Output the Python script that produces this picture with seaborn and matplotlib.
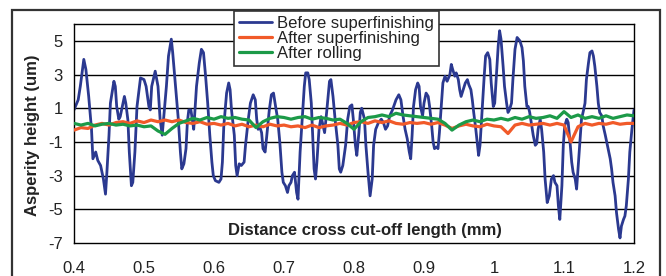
import matplotlib
matplotlib.use('Agg')
import matplotlib.pyplot as plt
import seaborn as sns
from matplotlib.patches import Rectangle

# ---------------- data ----------------
x_blue = [
    0.400, 0.406, 0.409, 0.414, 0.417, 0.421, 0.425, 0.427, 0.431, 0.434,
    0.438, 0.442, 0.445, 0.447, 0.450, 0.452, 0.457, 0.459, 0.461, 0.464,
    0.466, 0.469, 0.472, 0.474, 0.477, 0.479, 0.482, 0.484, 0.487, 0.490,
    0.495, 0.500, 0.503, 0.507, 0.509, 0.511, 0.516, 0.520, 0.523, 0.526,
    0.528, 0.532, 0.535, 0.539, 0.541, 0.545, 0.549, 0.552, 0.554, 0.557,
    0.560, 0.562, 0.564, 0.567, 0.571, 0.572, 0.575, 0.579, 0.582, 0.585,
    0.588, 0.591, 0.594, 0.597, 0.599, 0.602, 0.607, 0.610, 0.612, 0.614,
    0.618, 0.621, 0.623, 0.625, 0.629, 0.631, 0.633, 0.636, 0.639, 0.643,
    0.645, 0.649, 0.652, 0.656, 0.659, 0.661, 0.663, 0.665, 0.668, 0.670,
    0.673, 0.675, 0.679, 0.682, 0.685, 0.688, 0.691, 0.694, 0.697, 0.699,
    0.702, 0.705, 0.707, 0.710, 0.712, 0.715, 0.718, 0.720, 0.723, 0.726,
    0.729, 0.731, 0.734, 0.736, 0.739, 0.741, 0.743, 0.745, 0.747, 0.750,
    0.753, 0.758, 0.761, 0.765, 0.767, 0.770, 0.773, 0.777, 0.779, 0.781,
    0.784, 0.788, 0.791, 0.794, 0.797, 0.799, 0.802, 0.804, 0.807, 0.809,
    0.811, 0.815, 0.817, 0.820, 0.823, 0.826, 0.828, 0.831, 0.835, 0.839,
    0.842, 0.845, 0.848, 0.851, 0.855, 0.860, 0.864, 0.867, 0.870, 0.873,
    0.876, 0.879, 0.881, 0.883, 0.885, 0.888, 0.891, 0.893, 0.895, 0.898,
    0.900, 0.903, 0.906, 0.908, 0.911, 0.913, 0.915, 0.918, 0.920, 0.922,
    0.925, 0.927, 0.930, 0.933, 0.937, 0.939, 0.941, 0.944, 0.946, 0.949,
    0.951, 0.953, 0.956, 0.959, 0.962, 0.964, 0.967, 0.969, 0.971, 0.974,
    0.976, 0.978, 0.980, 0.983, 0.986, 0.988, 0.991, 0.994, 0.996, 0.999,
    1.001, 1.003, 1.006, 1.008, 1.010, 1.013, 1.015, 1.018, 1.020, 1.022,
    1.025, 1.027, 1.030, 1.033, 1.037, 1.040, 1.042, 1.044, 1.047, 1.049,
    1.051, 1.054, 1.056, 1.059, 1.061, 1.063, 1.066, 1.068, 1.071, 1.073,
    1.076, 1.079, 1.082, 1.085, 1.087, 1.090, 1.092, 1.094, 1.097, 1.099,
    1.101, 1.104, 1.106, 1.109, 1.111, 1.113, 1.116, 1.118, 1.120, 1.123,
    1.125, 1.128, 1.130, 1.132, 1.135, 1.137, 1.140, 1.142, 1.144, 1.147,
    1.149, 1.151, 1.154, 1.156, 1.159, 1.162, 1.166, 1.168, 1.170, 1.173,
    1.175, 1.178, 1.180, 1.182, 1.185, 1.187, 1.189, 1.192, 1.194, 1.197,
    1.199, 1.200,
]
y_blue = [
    0.9, 1.5, 2.3, 3.9, 3.3, 1.7, -0.25, -2.0, -1.6, -2.1,
    -2.4, -3.2, -4.1, -2.8, -0.6, 1.3, 2.6, 2.3, 1.1, 0.35,
    0.5, 1.1, 1.7, 1.3, 0.3, -1.6, -3.6, -3.4, -1.6, 1.1,
    2.8, 2.7, 2.3, 1.1, 0.9, 2.3, 3.2, 2.3, 0.35, -0.6,
    0.35, 2.3, 4.1, 5.1, 4.3, 2.3, 0.35, -1.6, -2.6, -2.3,
    -1.4, 0.2, 0.9, 0.9, -0.25, 0.35, 2.3, 3.7, 4.5, 4.3,
    2.9, 1.3, -0.6, -2.2, -3.0, -3.3, -3.4, -3.2, -2.2, -0.05,
    1.9, 2.5, 2.1, 0.9, -0.6, -2.4, -3.0, -2.3, -2.4, -2.2,
    -1.2, 0.35, 1.3, 1.8, 1.5, 0.35, -0.25, -0.05, -0.45, -1.4,
    -1.6, -0.8, 0.9, 1.8, 1.9, 1.1, 0.35, -1.0, -2.8, -3.4,
    -3.6, -4.0, -3.6, -3.4, -3.0, -2.8, -4.0, -4.4, -1.6, 0.35,
    2.3, 3.1, 3.1, 2.7, 1.3, -0.6, -2.6, -3.2, -2.2, -0.25,
    0.5, -0.45, 0.8, 2.6, 2.7, 1.7, 0.35, -1.2, -2.6, -2.8,
    -2.4, -1.2, 0.35, 1.1, 1.2, 0.35, -1.2, -1.8, -0.45, 0.75,
    1.0, 0.35, -1.2, -2.8, -4.2, -3.2, -1.2, -0.25, 0.15, 0.35,
    0.15, -0.25, -0.05, 0.55, 0.9, 1.5, 1.8, 1.5, 0.55, -0.25,
    -0.8, -1.6, -2.0, -0.6, 1.1, 2.1, 2.5, 2.3, 1.1, 0.55,
    1.3, 1.9, 1.7, 1.1, -0.05, -1.0, -1.4, -1.3, -1.4, -0.45,
    1.3, 2.5, 2.9, 2.6, 3.0, 3.6, 3.3, 2.9, 3.1, 2.7,
    2.1, 1.7, 2.1, 2.5, 2.7, 2.4, 2.1, 1.5, 0.75, -0.25,
    -1.0, -1.8, -1.2, 0.9, 2.9, 4.1, 4.3, 3.9, 2.5, 1.1,
    1.3, 2.7, 4.7, 5.6, 5.1, 3.5, 2.3, 1.3, 0.75, 0.9,
    1.3, 2.7, 4.5, 5.2, 5.0, 4.6, 3.8, 2.3, 1.1, 1.1,
    0.75, -0.05, -0.6, -1.2, -1.1, -0.25, 0.35, -0.25, -1.6, -3.2,
    -4.6, -4.2, -3.2, -3.0, -3.4, -3.6, -4.8, -5.6, -3.6, -1.2,
    -0.05, 0.35, 0.15, -1.2, -2.2, -2.8, -3.2, -3.8, -2.6, -0.8,
    0.35, 0.9, 1.3, 2.7, 3.7, 4.3, 4.4, 4.1, 3.5, 2.3,
    1.3, 0.75, 0.55, -0.05, -0.6, -1.2, -2.0, -2.6, -3.4, -4.2,
    -5.2, -6.2, -6.7, -6.0, -5.6, -5.4, -4.8, -3.2, -1.6, -0.25,
    0.55, 0.9,
]

x_after = [
    0.40, 0.41, 0.42, 0.43, 0.44, 0.45, 0.46, 0.47, 0.48, 0.49,
    0.50, 0.51, 0.52, 0.53, 0.54, 0.55, 0.56, 0.57, 0.58, 0.59,
    0.60, 0.61, 0.62, 0.63, 0.64, 0.65, 0.66, 0.67, 0.68, 0.69,
    0.70, 0.71, 0.72, 0.73, 0.74, 0.75, 0.76, 0.77, 0.78, 0.79,
    0.80, 0.81, 0.82, 0.83, 0.84, 0.85, 0.86, 0.87, 0.88, 0.89,
    0.90, 0.91, 0.92, 0.93, 0.94, 0.95, 0.96, 0.97, 0.98, 0.99,
    1.00, 1.01, 1.02, 1.03, 1.04, 1.05, 1.06, 1.07, 1.08, 1.09,
    1.10, 1.11, 1.12, 1.13, 1.14, 1.15, 1.16, 1.17, 1.18, 1.19,
    1.20,
]
y_superfinished = [
    -0.3, -0.15, -0.2, 0.0, 0.1, 0.0, 0.15, 0.2, 0.1, 0.25,
    0.15, 0.3, 0.2, 0.3, 0.2, 0.3, 0.15, 0.1, 0.2, 0.05,
    0.1, 0.0, 0.1, -0.05, 0.05, -0.1, 0.0, -0.1, 0.05, -0.05,
    0.0, -0.1, -0.05, -0.15, 0.0, -0.15, -0.05, 0.0, 0.1, 0.0,
    0.15, 0.2, 0.1, 0.25, 0.15, 0.25, 0.1, 0.05, 0.15, 0.1,
    0.15, 0.05, 0.15, 0.0, -0.2, -0.05, 0.05, -0.05, -0.1, 0.05,
    -0.05, -0.1, -0.5, 0.0, 0.1, 0.0, 0.05, 0.1, 0.0, 0.1,
    0.0, -1.0, -0.1, 0.1, 0.0, 0.1, 0.05, 0.15, 0.05, 0.1,
    0.1,
]
y_rolled = [
    0.1, 0.0, 0.1, -0.05, 0.05, 0.1, 0.0, 0.05, -0.05, 0.0,
    -0.1, -0.05, -0.35, -0.55, -0.2, 0.1, 0.25, 0.4, 0.3, 0.45,
    0.35, 0.5, 0.4, 0.45, 0.35, 0.3, -0.15, 0.2, 0.4, 0.5,
    0.45, 0.35, 0.45, 0.5, 0.35, 0.45, 0.4, 0.3, 0.35, 0.1,
    -0.25, 0.2, 0.45, 0.5, 0.6, 0.5, 0.7, 0.6, 0.55, 0.5,
    0.45, 0.4, 0.35, 0.1, -0.3, 0.0, 0.2, 0.3, 0.2, 0.35,
    0.3, 0.4, 0.3, 0.45, 0.35, 0.5, 0.4, 0.45, 0.55, 0.4,
    0.8, 0.45, 0.6, 0.4, 0.5, 0.4, 0.55, 0.4, 0.5, 0.6,
    0.55,
]

series_names = ["Before superfinishing", "After superfinishing", "After rolling"]
y_ticks = [-7, -5, -3, -1, 1, 3, 5]
grid_levels = [-5, -3, -1, 1, 3, 5]
x_ticks = [0.4, 0.5, 0.6, 0.7, 0.8, 0.9, 1.0, 1.1, 1.2]
x_tick_labels = ["0.4", "0.5", "0.6", "0.7", "0.8", "0.9", "1", "1.1", "1.2"]
x_label = "Distance cross cut-off length (mm)"
y_label = "Asperity height (um)"

# ---------------- style ----------------
sns.set_theme(style="white")
plt.rcParams['font.family'] = ['Liberation Sans', 'DejaVu Sans']

W, H = 666, 276
fig = plt.figure(figsize=(W / 100, H / 100), dpi=100)
ax = fig.add_axes([74 / W, 1 - 243 / H, 560 / W, 219 / H])

blue, red, green = "#2b3990", "#f15a29", "#1c9a48"

for yv in grid_levels:
    ax.axhline(yv, color="black", lw=1.0, zorder=0.5)

sns.lineplot(x=x_blue, y=y_blue, ax=ax, color=blue, lw=2.0,
             label=series_names[0], estimator=None, sort=False, zorder=2)
sns.lineplot(x=x_after, y=y_superfinished, ax=ax, color=red, lw=2.3,
             label=series_names[1], estimator=None, sort=False, zorder=3)
sns.lineplot(x=x_after, y=y_rolled, ax=ax, color=green, lw=2.3,
             label=series_names[2], estimator=None, sort=False, zorder=4)

ax.set_xlim(0.4, 1.2)
ax.set_ylim(-7, 6)
ax.set_xticks(x_ticks)
ax.set_xticklabels(x_tick_labels)
ax.set_yticks(y_ticks)
ax.set_yticklabels([str(v) for v in y_ticks])
ax.tick_params(axis="both", length=0, labelsize=12, colors="#222222")
ax.tick_params(axis="x", pad=13)
ax.tick_params(axis="y", pad=8)
for s in ax.spines.values():
    s.set_color("black")
    s.set_linewidth(1.0)
    s.set_visible(True)

ax.set_xlabel(x_label, fontsize=12, fontweight="bold", color="#222222", va="center")
ax.xaxis.set_label_coords((365 - 74) / 560, (243 - 230) / 219)
ax.set_ylabel(y_label, fontsize=12, fontweight="bold", color="#222222", va="center")
ax.yaxis.set_label_coords((32.5 - 74) / 560, (243 - 135) / 219)

leg = ax.legend(loc="upper left", bbox_to_anchor=(234 / W, 1 - 11 / H),
                bbox_transform=fig.transFigure, borderaxespad=0, frameon=True,
                fancybox=False, edgecolor="#333333", framealpha=1,
                fontsize=12, labelspacing=0.0, handlelength=2.0,
                handletextpad=0.3, borderpad=0.3)
leg.get_frame().set_linewidth(1.2)
for t in leg.get_texts():
    t.set_color("#222222")
leg.set_zorder(10)

fig.add_artist(Rectangle((12 / W, -0.1), (660 - 12) / W, 1.1 - 10 / H,
                         transform=fig.transFigure, fill=False,
                         edgecolor="#333333", lw=1.6, zorder=0))

fig.savefig("out.png", dpi=100)
